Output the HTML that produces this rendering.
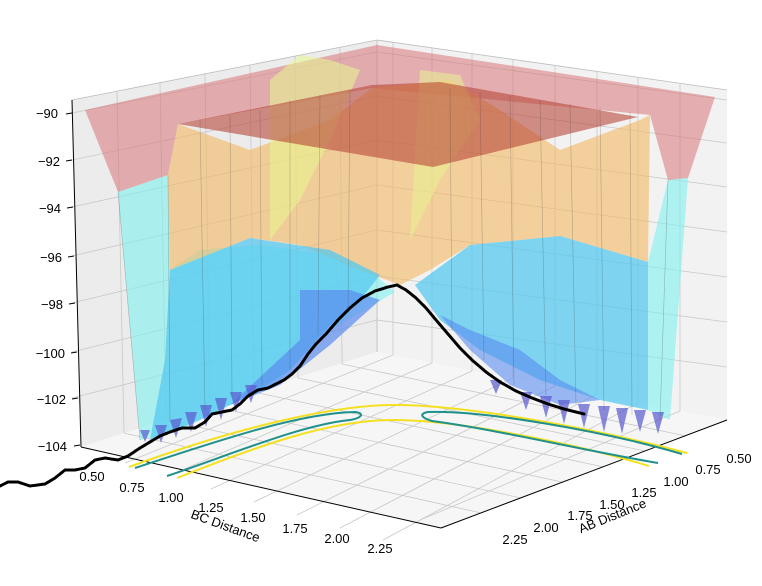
<!DOCTYPE html>
<html><head><meta charset="utf-8"><style>
html,body{margin:0;padding:0;background:#fff;}
svg{display:block;font-family:"Liberation Sans","DejaVu Sans",sans-serif;}
</style></head><body>
<svg width="762" height="586" viewBox="0 0 762 586" xmlns="http://www.w3.org/2000/svg">
<!-- panes -->
<polygon points="72,100 377,40 377,352 81,447" fill="#ececec"/>
<polygon points="377,40 727,90 727,420 377,352" fill="#f2f2f2"/>
<polygon points="81,447 377,352 727,420 441,528" fill="#f6f6f6"/>
<g stroke="#c8c8c8" stroke-width="0.8" fill="none">
<!-- left wall horizontals -->
<line x1="72" y1="113" x2="377" y2="52"/><line x1="72" y1="160" x2="377" y2="96"/>
<line x1="72" y1="207" x2="377" y2="140"/><line x1="72" y1="256" x2="377" y2="185"/>
<line x1="72" y1="303" x2="377" y2="230"/><line x1="72" y1="352" x2="377" y2="276"/>
<line x1="72" y1="398" x2="377" y2="320"/>
<!-- right wall horizontals -->
<line x1="377" y1="52" x2="727" y2="100"/><line x1="377" y1="96" x2="727" y2="143"/>
<line x1="377" y1="140" x2="727" y2="187"/><line x1="377" y1="185" x2="727" y2="232"/>
<line x1="377" y1="230" x2="727" y2="277"/><line x1="377" y1="276" x2="727" y2="322"/>
<line x1="377" y1="320" x2="727" y2="367"/>
<!-- left wall verticals -->
<line x1="117" y1="91" x2="124" y2="433"/><line x1="160" y1="82" x2="166" y2="420"/>
<line x1="205" y1="74" x2="210" y2="406"/><line x1="250" y1="65" x2="254" y2="392"/>
<line x1="295" y1="56" x2="298" y2="378"/><line x1="340" y1="47" x2="342" y2="364"/>
<!-- right wall verticals -->
<line x1="393" y1="42" x2="393" y2="355"/><line x1="432" y1="48" x2="432" y2="363"/>
<line x1="472" y1="54" x2="472" y2="371"/><line x1="513" y1="60" x2="513" y2="378"/>
<line x1="555" y1="66" x2="555" y2="386"/><line x1="597" y1="72" x2="597" y2="394"/>
<line x1="638" y1="78" x2="638" y2="403"/><line x1="680" y1="84" x2="680" y2="411"/>
<!-- floor grid -->
<line x1="124" y1="433" x2="481" y2="513"/><line x1="166" y1="420" x2="521" y2="498"/>
<line x1="210" y1="406" x2="562" y2="482"/><line x1="254" y1="392" x2="604" y2="467"/>
<line x1="298" y1="378" x2="645" y2="451"/><line x1="342" y1="364" x2="686" y2="436"/>
<line x1="393" y1="355" x2="125" y2="463"/><line x1="432" y1="363" x2="168" y2="476"/>
<line x1="472" y1="371" x2="211" y2="489"/><line x1="513" y1="378" x2="254" y2="502"/>
<line x1="555" y1="386" x2="297" y2="515"/><line x1="597" y1="394" x2="340" y2="528"/>
<line x1="638" y1="403" x2="383" y2="540"/><line x1="680" y1="411" x2="420" y2="520"/>
</g>
<g stroke="#bbb" stroke-width="0.8" fill="none">
<polyline points="72,100 377,40 727,90"/><line x1="377" y1="40" x2="377" y2="352"/>
</g>
<!-- surfaces -->
<g stroke="none">
<polygon points="85,110 377,45 715,97 688,178 668,180 650,115 372,88 178,124 168,175 118,192" fill="#d9767a" fill-opacity="0.55"/>
<polygon points="118,192 168,175 170,270 200,250 260,245 330,255 375,275 395,292 330,330 280,380 240,400 180,430 140,440" fill="#7ff0ee" fill-opacity="0.6"/>
<polygon points="668,180 688,178 670,420 648,410 648,262" fill="#7ff0ee" fill-opacity="0.6"/>
<polygon points="168,175 178,124 250,150 330,120 372,88 450,80 500,110 560,150 640,120 650,115 648,262 560,236 470,245 430,270 400,285 360,270 300,245 250,238 170,270" fill="#f4b860" fill-opacity="0.6"/>
<polygon points="270,80 300,55 330,60 360,70 330,140 300,200 270,240" fill="#e8f890" fill-opacity="0.55"/>
<polygon points="420,70 460,75 480,120 440,180 410,240" fill="#e8f890" fill-opacity="0.5"/>
<polygon points="178,124 372,85 440,82 638,117 433,167" fill="#b8483a" fill-opacity="0.6"/>
<polygon points="170,270 250,238 330,250 380,275 360,300 330,325 290,370 250,395 200,420 150,440 165,360" fill="#55c8ef" fill-opacity="0.75"/>
<polygon points="415,285 470,245 560,236 648,262 648,410 600,400 540,380 480,350 440,320" fill="#55c8ef" fill-opacity="0.75"/>
<polygon points="300,290 350,290 380,300 330,345 280,385 230,405 300,340" fill="#5a8cf0" fill-opacity="0.7"/>
<polygon points="440,315 470,330 520,350 560,380 600,400 560,405 510,385 470,350" fill="#5a8cf0" fill-opacity="0.6"/>
</g>
<!-- blue wells -->
<g fill="#5a5ad0" fill-opacity="0.7">
<path d="M170,420 l6,18 l6,-20z M185,412 l6,20 l6,-20z M200,405 l6,22 l6,-22z M215,398 l6,22 l6,-22z M230,392 l6,20 l6,-20z M245,385 l6,18 l6,-18z M155,425 l6,18 l6,-18z M140,430 l5,12 l5,-12z"/>
<path d="M520,392 l6,18 l6,-18z M540,396 l6,22 l6,-22z M558,400 l6,24 l6,-24z M578,404 l6,24 l6,-24z M598,406 l6,26 l6,-26z M616,408 l6,26 l6,-26z M634,410 l6,22 l6,-22z M652,412 l6,22 l6,-22z M490,380 l6,14 l6,-14z"/>
</g>
<!-- surface mesh lines -->
<g stroke="#333" stroke-opacity="0.3" stroke-width="0.6" fill="none">
<line x1="118" y1="192" x2="140" y2="440"/><line x1="168" y1="175" x2="170" y2="420"/>
<line x1="200" y1="120" x2="205" y2="410"/><line x1="230" y1="115" x2="232" y2="395"/>
<line x1="260" y1="110" x2="262" y2="385"/><line x1="290" y1="100" x2="290" y2="370"/>
<line x1="320" y1="95" x2="318" y2="335"/><line x1="350" y1="90" x2="348" y2="310"/>
<line x1="450" y1="88" x2="452" y2="330"/><line x1="480" y1="92" x2="484" y2="360"/>
<line x1="510" y1="96" x2="514" y2="385"/><line x1="540" y1="100" x2="546" y2="395"/>
<line x1="570" y1="104" x2="576" y2="405"/><line x1="600" y1="108" x2="604" y2="410"/>
<line x1="630" y1="112" x2="632" y2="415"/><line x1="668" y1="180" x2="660" y2="420"/>
</g>
<!-- axes -->
<g stroke="#000" stroke-width="1">
<line x1="72" y1="100" x2="81" y2="447"/>
<line x1="72" y1="113" x2="66" y2="114"/><line x1="72" y1="160" x2="66" y2="161"/>
<line x1="73" y1="207" x2="67" y2="208"/><line x1="74" y1="256" x2="68" y2="257"/>
<line x1="75" y1="303" x2="69" y2="304"/><line x1="77" y1="352" x2="71" y2="353"/>
<line x1="78" y1="398" x2="72" y2="399"/><line x1="80" y1="445" x2="74" y2="446"/>
<line x1="81" y1="447" x2="441" y2="528"/><line x1="441" y1="528" x2="727" y2="420"/>
</g>
<g font-size="13" fill="#000" text-anchor="end">
<text x="58" y="118">−90</text><text x="60" y="166">−92</text><text x="61" y="213">−94</text>
<text x="62" y="262">−96</text><text x="63" y="309">−98</text><text x="65" y="358">−100</text>
<text x="66" y="404">−102</text><text x="67" y="451">−104</text>
</g>
<g font-size="13" fill="#000" text-anchor="middle">
<text x="92" y="481">0.50</text><text x="132" y="492">0.75</text><text x="171" y="502">1.00</text>
<text x="211" y="512">1.25</text><text x="253" y="522">1.50</text><text x="295" y="533">1.75</text>
<text x="337" y="543">2.00</text><text x="380" y="553">2.25</text>
<text x="739" y="463">0.50</text><text x="708" y="474">0.75</text><text x="676" y="486">1.00</text>
<text x="644" y="497">1.25</text><text x="612" y="509">1.50</text><text x="580" y="520">1.75</text>
<text x="546" y="532">2.00</text><text x="515" y="544">2.25</text>
<text transform="translate(224,530) rotate(20)">BC Distance</text>
<text transform="translate(614,520) rotate(-22)">AB Distance</text>
</g>
<!-- floor contours -->
<g fill="none" stroke-width="2">
<path d="M129,467 C230,430 330,405 394,405 C470,405 600,430 687,453" stroke="#f5e020"/>
<path d="M177,478 C260,445 330,420 394,420 C460,420 580,445 649,466" stroke="#f5e020"/>
<path d="M135,468 C220,440 300,413 355,412 C365,413 362,418 350,420 C300,425 230,455 167,476" stroke="#20908c"/>
<path d="M682,454 C600,430 480,410 428,412 C418,414 422,418 432,421 C500,430 580,450 658,463" stroke="#20908c"/>
</g>
<!-- dotted path -->
<polyline points="0,486 8,482 18,482 30,486 45,484 55,478 65,470 75,470 85,468 95,460 105,458 118,460 128,456 140,448 150,442 160,436 170,432 182,428 195,428 205,422 212,414 222,412 232,410 240,404 248,396 258,390 268,388 276,384 284,380 292,374 300,366 308,354 316,344 326,334 338,320 350,308 362,298 375,291 388,287 397,285 406,290 416,298 426,308 436,320 448,334 460,348 472,360 486,372 500,382 516,391 532,398 548,404 564,409 584,414" fill="none" stroke="#000" stroke-width="3" stroke-dasharray="2.5 1" stroke-linecap="round"/>
</svg>
</body></html>
